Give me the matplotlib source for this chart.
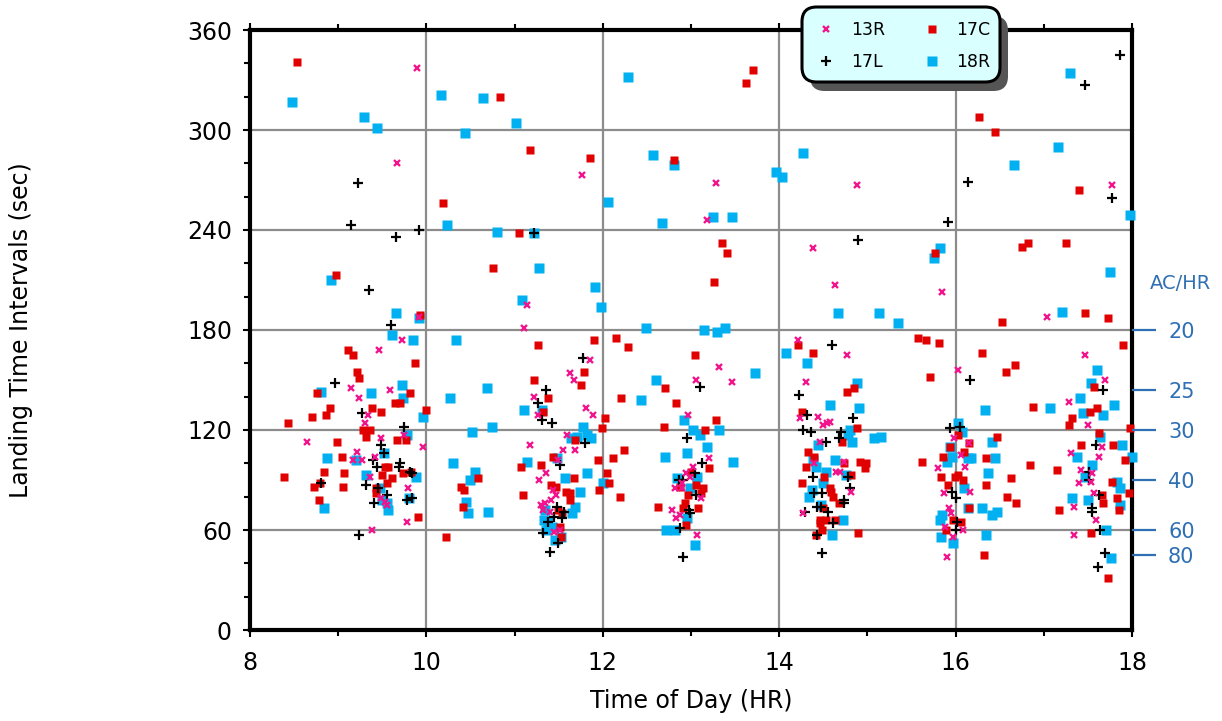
"""Landing time intervals by runway vs time of day."""

import matplotlib

matplotlib.use("Agg")
import matplotlib.pyplot as plt
from matplotlib.lines import Line2D
from matplotlib.patches import FancyBboxPatch
from matplotlib.ticker import MultipleLocator

# ---- data (hour of day, interval in seconds) ----
r13_hr = [9.89, 9.67, 11.76, 11.14, 11.11, 9.92, 13.28, 14.88, 13.18, 14.38, 14.63, 15.85, 17.04, 17.77,
          9.72, 9.46, 9.15, 9.59, 9.24, 9.34, 9.30, 9.75, 9.49, 8.65, 9.96, 9.21, 9.42, 9.17, 9.27, 9.36,
          9.79, 9.49, 9.53, 9.55, 9.78, 9.38,
          11.86, 11.63, 11.67, 11.22, 11.81, 11.89, 11.26, 11.59, 11.18, 11.55, 11.69, 11.49, 11.36, 11.28,
          11.43, 11.47, 11.41, 11.30, 11.34, 11.32, 11.40, 11.45, 11.51,
          13.32, 13.06, 13.46, 12.97, 13.20, 13.02, 12.94, 12.99, 12.90, 12.82, 12.90, 13.11, 12.79, 12.87,
          12.83, 13.07,
          14.21, 14.77, 14.30, 14.24, 14.44, 14.50, 14.54, 14.58, 14.46, 14.39, 14.73, 14.64, 14.69, 14.81,
          14.27,
          16.03, 15.98, 16.15, 16.06, 16.11, 15.80, 15.87, 16.16, 15.92, 15.95, 15.88, 16.08, 15.97, 15.90,
          17.47, 17.69, 17.29, 17.50, 17.66, 17.31, 17.63, 17.42, 17.55, 17.40, 17.54, 17.57, 17.34, 17.59,
          17.34]
r13_sec = [337, 280, 273, 195, 181, 188, 268, 267, 246, 229, 207, 203, 188, 267,
           174, 168, 145, 144, 139, 129, 124, 117, 115, 113, 110, 107, 104, 102, 102, 92,
           85, 79, 77, 75, 65, 60,
           162, 154, 150, 140, 133, 129, 129, 117, 111, 108, 108, 102, 94, 90,
           84, 81, 78, 75, 76, 72, 71, 59, 60,
           158, 150, 149, 129, 103, 98, 94, 92, 88, 85, 85, 79, 72, 69,
           67, 57,
           174, 165, 149, 127, 128, 123, 124, 125, 113, 100, 101, 95, 95, 83,
           70,
           156, 115, 112, 105, 98, 97, 82, 83, 73, 70, 62, 60, 56, 44,
           165, 150, 137, 123, 110, 106, 104, 96, 94, 88, 89, 82, 74, 66,
           57]

r17c_hr = [8.53, 10.83, 11.18, 11.86, 12.81, 10.19, 11.05, 10.75, 8.98, 9.93, 13.70, 13.62, 13.35, 13.41,
           13.26, 16.26, 16.45, 17.40, 16.75, 16.82, 17.25, 15.77, 17.47, 17.73, 16.53,
           9.11, 9.17, 9.87, 9.21, 9.24, 8.76, 9.81, 9.64, 9.70, 8.91, 9.38, 9.48, 8.70, 8.86, 9.99,
           8.43, 9.28, 9.36, 9.32, 8.99, 9.67, 9.77, 9.04, 9.53, 9.57, 8.84, 8.39, 9.07, 9.50, 9.73,
           9.83, 9.61, 9.55, 8.79, 8.72, 9.05, 9.43, 9.43, 8.78, 9.90, 10.22, 10.58, 10.39, 10.43, 10.41,
           11.26, 11.90, 12.15, 12.29, 11.79, 11.75, 11.22, 11.38, 12.21, 11.32, 12.02, 11.99, 11.69, 12.24,
           11.44, 11.07, 11.30, 11.94, 12.11, 11.67, 12.05, 12.07, 11.96, 12.19, 12.63, 11.41, 11.47, 11.58,
           11.63, 11.09, 11.63, 11.49, 11.54, 11.51, 11.53,
           13.04, 12.71, 12.83, 13.28, 12.69, 13.16, 13.20, 13.00, 12.88, 13.06, 13.14, 13.11, 12.97, 12.93,
           13.08, 12.91, 12.94,
           15.57, 14.21, 14.38, 14.85, 14.77, 14.26, 14.88, 14.71, 14.33, 14.40, 14.92, 14.98, 14.97, 14.73,
           14.30, 14.51, 14.81, 14.26, 14.58, 14.59, 14.61, 14.68, 14.50, 14.46, 14.53, 14.63, 14.46, 14.49,
           14.42, 14.89,
           15.66, 15.81, 16.30, 16.67, 16.57, 15.71, 16.88, 16.03, 16.47, 16.15, 15.94, 16.10, 15.86, 16.35,
           15.62, 16.84, 17.15, 15.83, 15.99, 16.03, 16.08, 16.63, 15.91, 16.34, 16.58, 16.68, 16.15, 17.17,
           15.97, 16.06, 15.89, 16.32,
           17.90, 17.57, 17.60, 17.52, 17.32, 17.29, 17.98, 17.63, 17.42, 17.79, 17.92, 17.77, 17.97, 17.66,
           17.67, 17.83, 17.85, 17.54, 17.73]
r17c_sec = [341, 320, 288, 283, 282, 256, 238, 217, 213, 189, 336, 328, 232, 226,
            209, 308, 299, 264, 230, 232, 232, 226, 190, 187, 185,
            168, 165, 160, 155, 151, 142, 142, 136, 136, 133, 133, 131, 128, 129, 132,
            124, 120, 120, 116, 113, 114, 114, 104, 98, 98, 95, 92, 94, 93, 94,
            95, 91, 88, 88, 86, 86, 85, 82, 78, 68, 56, 91, 86, 84, 74,
            171, 174, 175, 170, 155, 147, 150, 139, 139, 131, 127, 121, 114, 108,
            104, 98, 99, 102, 103, 91, 94, 88, 84, 80, 74, 87, 86, 83,
            82, 81, 78, 72, 70, 62, 56,
            165, 145, 136, 126, 122, 120, 97, 95, 86, 87, 85, 82, 81, 76,
            73, 73, 63,
            175, 171, 166, 145, 143, 131, 121, 113, 107, 104, 101, 100, 97, 100,
            98, 92, 93, 88, 85, 83, 80, 76, 73, 66, 66, 66, 64, 60,
            57, 58,
            174, 172, 166, 159, 155, 152, 134, 117, 116, 112, 110, 107, 104, 103,
            101, 99, 96, 92, 92, 93, 90, 91, 87, 87, 80, 76, 73, 72,
            66, 65, 60, 45,
            171, 146, 133, 131, 127, 123, 121, 118, 111, 111, 102, 89, 82, 81,
            76, 79, 72, 58, 31]

r17l_hr = [9.22, 9.15, 9.66, 9.92, 11.22, 9.35, 9.60, 14.89, 15.91, 16.14, 17.47, 17.86, 17.77,
           8.96, 9.27, 9.75, 9.49, 9.52, 9.39, 9.70, 9.69, 9.44, 9.81, 9.84, 8.80, 9.32, 9.45, 9.55,
           9.41, 9.78, 9.84, 9.24,
           11.77, 11.36, 11.26, 11.31, 11.42, 11.80, 11.51, 11.48, 11.56, 11.54, 11.45, 11.38, 11.32, 11.49,
           11.40,
           13.10, 12.96, 13.13, 13.04, 12.86, 12.91, 13.06, 12.98, 12.99, 12.88, 12.91,
           14.60, 14.23, 14.32, 14.84, 14.27, 14.36, 14.70, 14.68, 14.53, 14.78, 14.38, 14.80, 14.40, 14.49,
           14.73, 14.74, 14.47, 14.43, 14.55, 14.29, 14.61, 14.43, 14.48,
           16.16, 15.94, 16.05, 15.96, 16.00, 16.02, 16.01,
           17.67, 17.59, 17.51, 17.51, 17.63, 17.55, 17.55, 17.64, 17.69, 17.61]
r17l_sec = [268, 243, 236, 240, 238, 204, 183, 234, 245, 269, 327, 345, 259,
            148, 130, 122, 111, 106, 102, 100, 98, 98, 95, 94, 88, 87, 85, 81,
            76, 78, 79, 57,
            163, 144, 136, 126, 124, 112, 99, 74, 71, 67, 68, 65, 58, 52,
            47,
            146, 115, 100, 94, 90, 90, 81, 72, 70, 61, 44,
            171, 141, 129, 127, 120, 119, 119, 115, 113, 92, 92, 85, 82, 82,
            78, 76, 74, 74, 71, 71, 64, 57, 46,
            150, 121, 122, 83, 79, 65, 60,
            144, 111, 95, 90, 81, 73, 71, 60, 46, 38]

r18r_hr = [8.48, 9.29, 9.44, 10.16, 10.64, 11.02, 10.44, 12.29, 12.57, 12.81, 10.23, 12.06, 12.67, 10.80,
           11.22, 11.28, 11.91, 11.98, 11.08, 12.49, 8.92, 9.66, 9.92, 14.27, 13.96, 14.03, 13.25, 13.46,
           17.16, 16.66, 17.30, 17.98, 17.75, 15.76, 15.82, 17.21, 14.67, 15.13, 15.35, 13.15, 13.29, 13.38,
           9.61, 9.85, 10.34, 9.72, 8.80, 9.37, 9.74, 10.27, 9.96, 9.78, 8.87, 9.52, 9.20, 10.30,
           9.32, 9.88, 9.47, 9.50, 9.55, 9.56, 8.84, 9.80, 10.52, 10.55, 10.49, 10.45, 10.47,
           10.69, 12.60, 12.43, 11.11, 11.31, 10.74, 11.77, 11.82, 11.87, 11.71, 11.64, 11.48, 11.14, 11.57,
           11.82, 12.00, 11.74, 11.68, 11.65, 10.70, 11.35, 11.33, 11.38, 11.36, 11.42, 11.46, 11.53,
           13.72, 12.92, 13.02, 13.10, 13.32, 13.18, 12.71, 12.96, 13.48, 12.84, 13.07, 12.99, 12.96, 12.72,
           12.82, 13.05,
           14.08, 14.32, 14.88, 14.58, 14.90, 14.80, 14.78, 14.83, 15.07, 15.15, 14.44, 14.38, 14.63, 14.42,
           14.53, 14.76, 14.50, 14.37, 14.34, 14.47, 14.72, 14.60,
           16.33, 16.03, 16.07, 16.41, 15.94, 16.14, 16.17, 15.90, 15.96, 16.45, 16.37, 16.10, 16.14, 16.30,
           16.41, 16.47, 15.85, 15.82, 15.84, 16.35, 15.97,
           17.07, 17.60, 17.54, 17.41, 17.80, 17.45, 17.67, 17.64, 17.89, 17.38, 18.00, 17.55, 17.47, 17.83,
           17.86, 17.32, 17.50, 17.86, 17.70, 17.76]
r18r_sec = [317, 308, 301, 321, 319, 304, 298, 332, 285, 279, 243, 257, 244, 239,
            238, 217, 206, 194, 198, 181, 210, 190, 187, 286, 275, 272, 248, 248,
            290, 279, 334, 249, 215, 223, 229, 191, 190, 190, 184, 180, 179, 181,
            177, 174, 174, 147, 143, 142, 139, 139, 128, 117, 103, 106, 102, 100,
            93, 92, 85, 78, 76, 72, 73, 79, 119, 95, 90, 77, 70,
            145, 150, 138, 132, 132, 122, 122, 117, 115, 116, 115, 103, 101, 91,
            94, 88, 83, 74, 70, 71, 72, 66, 65, 60, 62, 54, 56,
            154, 126, 120, 117, 120, 110, 104, 106, 101, 91, 92, 85, 67, 60,
            60, 51,
            166, 160, 148, 135, 133, 120, 117, 113, 115, 116, 111, 102, 102, 98,
            95, 93, 88, 84, 80, 75, 66, 57,
            132, 124, 119, 113, 110, 103, 103, 101, 104, 103, 94, 85, 73, 73,
            69, 71, 69, 66, 56, 57, 52,
            133, 156, 148, 139, 135, 130, 129, 116, 111, 104, 104, 99, 92, 89,
            85, 79, 78, 75, 60, 43]

# aircraft-per-hour scale on the right axis (interval = 3600 / rate)
ac_per_hr = [20, 25, 30, 40, 60, 80]

PINK = "#f2148c"
RED = "#e00000"
BLUE = "#00b0f0"
AXBLUE = "#2f6fb3"

W, H = 1222, 721
fig = plt.figure(figsize=(W / 100, H / 100), dpi=100)
ax = fig.add_axes([250 / W, 1 - 630 / H, 882 / W, 600 / H])

ax.grid(True, color="#8c8c8c", linewidth=1.6, zorder=0)
ax.set_axisbelow(True)

ax.plot(r18r_hr, r18r_sec, "s", color=BLUE, ms=7, mec="none", clip_on=False, zorder=3)
ax.plot(r17c_hr, r17c_sec, "s", color=RED, ms=5.2, mec="none", clip_on=False, zorder=4)
ax.plot(r17l_hr, r17l_sec, "+", color="black", ms=7, mew=1.6, clip_on=False, zorder=5)
ax.plot(r13_hr, r13_sec, "x", color=PINK, ms=4, mew=1.7, clip_on=False, zorder=6)

ax.set_xlim(8, 18)
ax.set_ylim(0, 360)
ax.xaxis.set_major_locator(MultipleLocator(2))
ax.xaxis.set_minor_locator(MultipleLocator(1))
ax.yaxis.set_major_locator(MultipleLocator(60))
ax.yaxis.set_minor_locator(MultipleLocator(20))
ax.tick_params(which="both", direction="out", top=True, right=True, width=1.5, labelsize=17)
ax.tick_params(which="major", length=5)
ax.tick_params(which="minor", length=4)
ax.tick_params(axis="x", pad=10)
ax.tick_params(axis="y", pad=8)
for sp in ax.spines.values():
    sp.set_linewidth(3)

ax.set_xlabel("Time of Day (HR)", fontsize=17)
ax.set_ylabel("Landing Time Intervals (sec)", fontsize=17)
ax.xaxis.set_label_coords(0.5, -0.098)
ax.yaxis.set_label_coords(-0.246, 0.5)

# right axis: arrival rate
rax = ax.twinx()
rax.set_ylim(0, 360)
rax.set_yticks([3600 / a for a in ac_per_hr])
rax.set_yticklabels([str(a) for a in ac_per_hr])
rax.tick_params(axis="y", colors=AXBLUE, length=17, width=1.6, pad=9, labelsize=15)
for sp in rax.spines.values():
    sp.set_visible(False)
fig.text(1180 / W, 1 - 283 / H, "AC/HR", color=AXBLUE, fontsize=14, ha="center", va="center")

# legend box with drop shadow
bx, by, bw, bh = 802 / W, 1 - 82 / H, 198 / W, 75 / H
style = "round,pad=0,rounding_size=0.012"
shadow = FancyBboxPatch((bx + 8 / W, by - 9 / H), bw, bh, boxstyle=style,
                        mutation_aspect=W / H, transform=fig.transFigure,
                        facecolor="#555555", edgecolor="none", zorder=3)
box = FancyBboxPatch((bx, by), bw, bh, boxstyle=style, mutation_aspect=W / H,
                     transform=fig.transFigure, facecolor="#d9ffff",
                     edgecolor="black", linewidth=2.2, zorder=4)
fig.add_artist(shadow)
fig.add_artist(box)

handles = [
    Line2D([], [], ls="none", marker="x", color=PINK, ms=4, mew=1.7),
    Line2D([], [], ls="none", marker="+", color="black", ms=7, mew=1.6),
    Line2D([], [], ls="none", marker="s", color=RED, ms=5.2, mec="none"),
    Line2D([], [], ls="none", marker="s", color=BLUE, ms=7, mec="none"),
]
fig.legend(handles, ["13R", "17L", "17C", "18R"], loc="center",
           bbox_to_anchor=(904 / W, 1 - 46 / H), ncol=2, frameon=False,
           fontsize=12.5, handlelength=1.0, handletextpad=0.9,
           columnspacing=2.2, labelspacing=0.85)

fig.savefig("out.png", dpi=100)
